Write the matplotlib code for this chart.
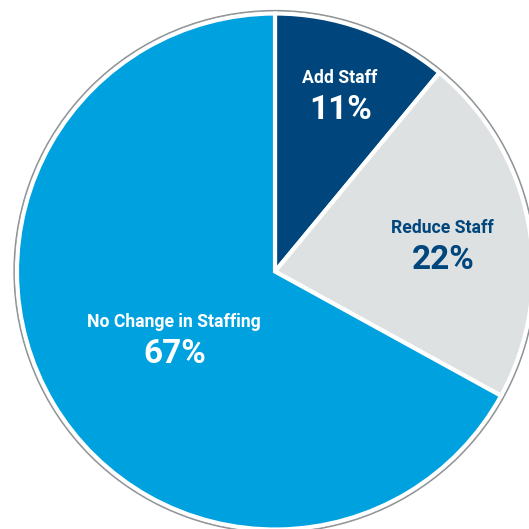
import matplotlib.pyplot as plt
from matplotlib.patches import Circle

labels = ["Add Staff", "Reduce Staff", "No Change in Staffing"]
shares = [11, 22, 67]
colors = ["#00467c", "#dee1e1", "#00a1df"]
text_colors = ["white", "#00467c", "white"]
# label baseline anchors (x, y) in pixel space, y measured from top
label_pos = [(340, 83), (442, 233), (174, 327)]

plt.rcParams['font.family'] = ['Roboto', 'DejaVu Sans']

fig = plt.figure(figsize=(5.29, 5.29), dpi=100)
ax = fig.add_axes([0, 0, 1, 1])

cx, cy = 275, 271.5
# y axis is flipped, so start at -90 and go counterclock in data terms
# first pass leaves a faint grey fringe, second pass cuts the white gaps
for edge, lw in [('#a3a8ab', 4.0), ('white', 3.0)]:
    ax.pie(shares, colors=colors, startangle=-90, counterclock=True,
           center=(cx, cy), radius=258, frame=True,
           wedgeprops=dict(edgecolor=edge, linewidth=lw))
ax.set_xlim(0, 529)
ax.set_ylim(529, 0)
ax.set_aspect('equal')
ax.axis('off')

# thin grey outline round the whole pie
ax.add_patch(Circle((cx, cy), 261, fill=False, edgecolor='#8c9194', linewidth=0.9))

for lab, val, tc, (x, y) in zip(labels, shares, text_colors, label_pos):
    ax.text(x, y, lab, color=tc, fontsize=12.7, fontweight='bold',
            ha='center', va='baseline')
    ax.text(x + 1, y + 36, f"{val}%", color=tc, fontsize=24, fontweight='bold',
            ha='center', va='baseline')

fig.savefig("out.png", dpi=100)
